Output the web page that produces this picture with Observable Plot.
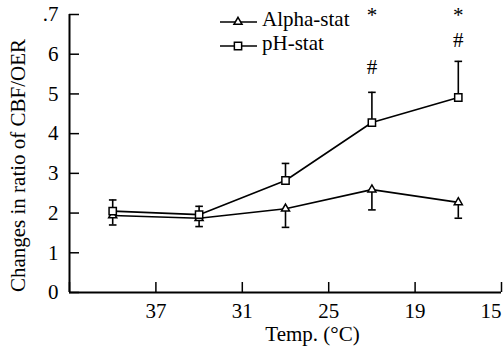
<!DOCTYPE html>
<html><head><meta charset="utf-8">
<script src="https://cdn.jsdelivr.net/npm/d3@7"></script>
<script src="https://cdn.jsdelivr.net/npm/@observablehq/plot@0.6"></script>
<style>
body{margin:0;background:#fff}
svg, svg text{font-family:"Liberation Serif","Times New Roman",serif !important; font-size:21px}
</style>
</head><body><div id="chart"></div>
<script>
// data
const stage = [0.5, 1.5, 2.5, 3.5, 4.5];
const alphaMean = [1.94, 1.87, 2.11, 2.59, 2.27];
const alphaErr  = [0.24, 0.21, 0.47, 0.51, 0.40];
const phMean    = [2.05, 1.96, 2.82, 4.28, 4.91];
const phErr     = [0.28, 0.21, 0.43, 0.76, 0.91];
const xTickPos  = [1, 2, 3, 4, 5];
const xTickLabels = ["37", "31", "25", "19", "15"];
const yTicks = [0, 1, 2, 3, 4, 5, 6, 7];
const yTickLabels = ["0", "1", "2", "3", "4", "5", "6", ".7"];
const annoStage = [3.5, 4.5, 3.5, 4.5];
const annoY     = [6.99, 6.99, 5.66, 6.34];
const annoText  = ["*", "*", "#", "#"];
const seriesNames = ["Alpha-stat", "pH-stat"];
const xLabel = "Temp. (°C)";
const yLabel = "Changes in ratio of CBF/OER";

const alpha = stage.map((s, i) => ({x: s, y: alphaMean[i], lo: alphaMean[i] - alphaErr[i]}));
const ph = stage.map((s, i) => ({x: s, y: phMean[i], hi: phMean[i] + phErr[i]}));
const anno = annoText.map((t, i) => ({x: annoStage[i], y: annoY[i], t}));
const xLabelOf = (d) => xTickLabels[xTickPos.indexOf(d)] ?? "";
const lastTick = xTickPos[xTickPos.length - 1];

const hbar = {draw(ctx, size) { const r = Math.sqrt(size / Math.PI); ctx.moveTo(-r, 0); ctx.lineTo(r, 0); }};

const chart = Plot.plot({
  width: 504, height: 352,
  marginLeft: 69, marginRight: 3, marginTop: 14, marginBottom: 60,
  x: {domain: [0, 5]},
  y: {domain: [0, 7]},
  style: {fontSize: "21px", background: "white", color: "black"},
  marks: [
    Plot.axisY({ticks: yTicks, tickFormat: (d) => yTickLabels[yTicks.indexOf(d)], tickSize: -10, tickPadding: 21, label: null, stroke: "black", strokeWidth: 1.5}),
    Plot.axisX({ticks: [0, ...xTickPos], tickFormat: (d) => d === lastTick ? "" : xLabelOf(d), tickSize: -10, tickPadding: 21, label: null, stroke: "black", strokeWidth: 1.5}),
    Plot.axisX({ticks: [lastTick], tickFormat: xLabelOf, tickSize: 0, tickPadding: 11, textAnchor: "end", label: null}),
    Plot.ruleX([0], {y1: 0, y2: 7, stroke: "black", strokeWidth: 2}),
    Plot.ruleY([0], {x1: 0, x2: 5, stroke: "black", strokeWidth: 2}),
    // error bars
    Plot.ruleX(ph, {x: "x", y1: "y", y2: "hi", stroke: "black", strokeWidth: 1.6}),
    Plot.dot(ph, {x: "x", y: "hi", symbol: hbar, r: 3.8, stroke: "black", strokeWidth: 1.6}),
    Plot.ruleX(alpha, {x: "x", y1: "y", y2: "lo", stroke: "black", strokeWidth: 1.6}),
    Plot.dot(alpha, {x: "x", y: "lo", symbol: hbar, r: 3.8, stroke: "black", strokeWidth: 1.6}),
    // lines
    Plot.line(alpha, {x: "x", y: "y", stroke: "black", strokeWidth: 1.6}),
    Plot.line(ph, {x: "x", y: "y", stroke: "black", strokeWidth: 1.6}),
    Plot.dot(alpha, {x: "x", y: "y", symbol: "triangle", r: 3, fill: "white", stroke: "black", strokeWidth: 1.5}),
    Plot.dot(ph, {x: "x", y: "y", symbol: "square", r: 4.1, fill: "white", stroke: "black", strokeWidth: 1.5}),
    // annotations
    Plot.text(anno, {x: "x", y: "y", text: "t", fill: "black"}),
    // axis titles
    Plot.text([yLabel], {frameAnchor: "left", textAnchor: "middle", rotate: -90, dx: -51, dy: 12, fill: "black"}),
    Plot.text([xLabel], {frameAnchor: "bottom", textAnchor: "middle", dx: 27, dy: 48, fill: "black"})
  ]
});
document.getElementById("chart").appendChild(chart);

// legend
const svg = d3.select(chart);
const lg = svg.append("g").attr("stroke", "black");
const legendRows = [22, 46];
seriesNames.forEach((name, i) => {
  const y = legendRows[i];
  lg.append("line").attr("x1", 220).attr("x2", 257).attr("y1", y).attr("y2", y).attr("stroke-width", 1.6);
  const sym = i === 0 ? d3.symbol(d3.symbolTriangle, Math.PI * 9) : d3.symbol(d3.symbolSquare, Math.PI * 4.1 * 4.1);
  lg.append("path").attr("d", sym()).attr("transform", `translate(238,${y})`).attr("fill", "white").attr("stroke-width", 1.5);
  svg.append("text").attr("x", 262).attr("y", y - 3).attr("dy", "0.32em").attr("fill", "black")
    .attr("text-anchor", "start").text(name);
});
</script>
</body></html>
